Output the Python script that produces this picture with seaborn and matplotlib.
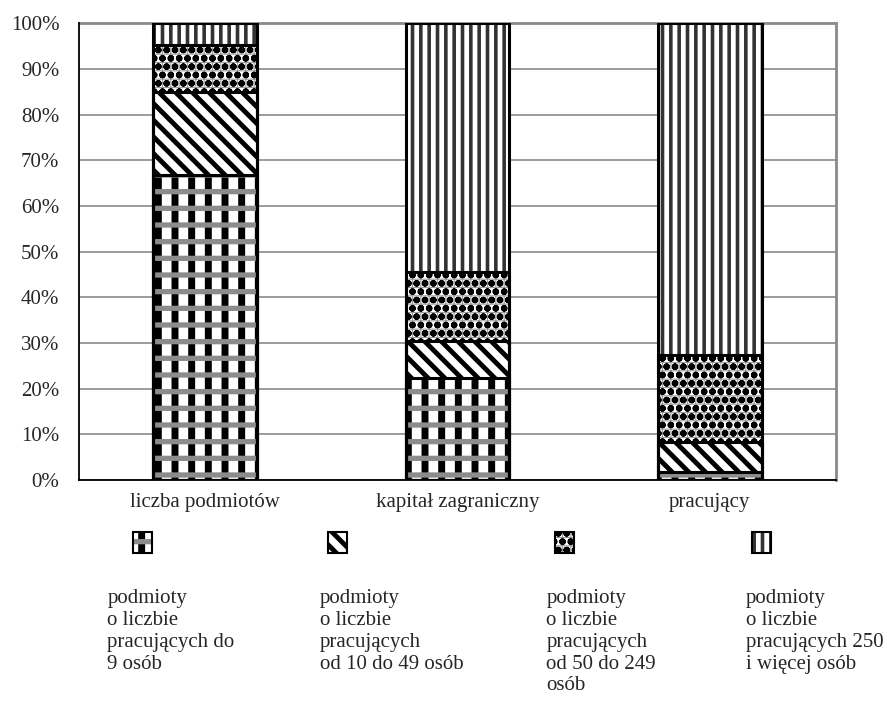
import numpy as np
import pandas as pd
import matplotlib
matplotlib.use("Agg")
import matplotlib.pyplot as plt
import seaborn as sns
from matplotlib.patches import Rectangle
from matplotlib.ticker import PercentFormatter

# === DANE ===
kategorie = ["liczba podmiotów", "kapitał zagraniczny", "pracujący"]
do_9 = [66.8, 22.3, 1.8]
od_10_do_49 = [18.2, 8.2, 6.6]
od_50_do_249 = [10.2, 15.0, 19.0]
od_250 = [4.8, 54.5, 72.6]
etykiety = [
    "podmioty\no liczbie\npracujących do\n9 osób",
    "podmioty\no liczbie\npracujących\nod 10 do 49 osób",
    "podmioty\no liczbie\npracujących\nod 50 do 249\nosób",
    "podmioty\no liczbie\npracujących 250\ni więcej osób",
]

sns.set_style("white")
plt.rcParams["font.family"] = ["Liberation Serif", "DejaVu Serif"]
plt.rcParams["font.size"] = 15

serie = [do_9, od_10_do_49, od_50_do_249, od_250]
# warstwy wzoru dla kazdej serii: (hatch, grubosc, kolor)
wzory = [
    [("|", 5.0, "black"), ("-", 3.8, "#8c8c8c")],
    [("\\\\", 3.5, "black")],
    [("++", 0.8, "#9a9a9a"), ("oo", 2.3, "black")],
    [("||", 2.6, "#333333")],
]


def ustaw_patch(p, hatch, lw, kolor):
    p.set_hatch(hatch)
    if hasattr(p, "set_hatch_color"):
        p.set_hatch_color(kolor)
    if hasattr(p, "set_hatch_linewidth"):
        p.set_hatch_linewidth(lw)


fig = plt.figure(figsize=(8.87, 7.04), dpi=100)
ax = fig.add_axes([0.089, 0.318, 0.8535, 0.649])

# sumy skumulowane - rysujemy od najwyższej
skum = np.cumsum(np.array(serie), axis=0)
for k in range(len(serie) - 1, -1, -1):
    df = pd.DataFrame({"kat": kategorie, "val": skum[k]})
    for j, (h, lw, kol) in enumerate(wzory[k]):
        plt.rcParams["hatch.linewidth"] = lw
        n0 = len(ax.patches)
        sns.barplot(data=df, x="kat", y="val", ax=ax, color="white", width=0.41,
                    edgecolor=kol, linewidth=0, errorbar=None)
        for p in ax.patches[n0:]:
            if j > 0:
                p.set_facecolor("none")
            p.set_edgecolor(kol)
            p.set_linewidth(0)
            p.set_zorder(3)
            ustaw_patch(p, h, lw, kol)
    # obramowanie segmentow - na wierzchu
    n0 = len(ax.patches)
    sns.barplot(data=df, x="kat", y="val", ax=ax, color="white", width=0.41,
                edgecolor="black", linewidth=2.2, errorbar=None)
    for p in ax.patches[n0:]:
        p.set_facecolor("none")
        p.set_zorder(5)

ax.set_ylim(0, 100)
ax.set_xlim(-0.5, 2.5)
ax.set_yticks(np.arange(0, 101, 10))
ax.yaxis.set_major_formatter(PercentFormatter(decimals=0))
ax.yaxis.grid(True, color="#8a8a8a", linewidth=1.2, zorder=0)
ax.set_axisbelow(True)
ax.set_xlabel("")
ax.set_ylabel("")
ax.set_xticks([-0.5, 0.5, 1.5, 2.5], minor=True)
ax.tick_params(axis="x", which="major", length=0, pad=9)
ax.tick_params(axis="x", which="minor", length=5, width=1, color="black")
ax.tick_params(axis="y", length=5, width=1, color="black", pad=9)
for s in ["left", "bottom"]:
    ax.spines[s].set_color("black")
    ax.spines[s].set_linewidth(1.3)
    ax.spines[s].set_zorder(6)
for s in ["top", "right"]:
    ax.spines[s].set_color("#8a8a8a")
    ax.spines[s].set_linewidth(2)

# === LEGENDA (pod wykresem) ===
pozycje_x = [0.150, 0.370, 0.626, 0.848]
tekst_x = [0.121, 0.361, 0.616, 0.841]
for i in range(4):
    for j, (h, lw, kol) in enumerate(wzory[i]):
        plt.rcParams["hatch.linewidth"] = lw
        r = Rectangle((pozycje_x[i], 0.214), 0.021, 0.031, transform=fig.transFigure,
                      facecolor="white" if j == 0 else "none", edgecolor=kol,
                      linewidth=0, hatch=h)
        ustaw_patch(r, h, lw, kol)
        fig.patches.append(r)
    fig.patches.append(Rectangle((pozycje_x[i], 0.214), 0.021, 0.031,
                                 transform=fig.transFigure, facecolor="none",
                                 edgecolor="black", linewidth=1.5))
    fig.text(tekst_x[i], 0.163, etykiety[i], ha="left", va="top",
             fontsize=15, linespacing=1.2)

fig.savefig("out.png", dpi=100)
